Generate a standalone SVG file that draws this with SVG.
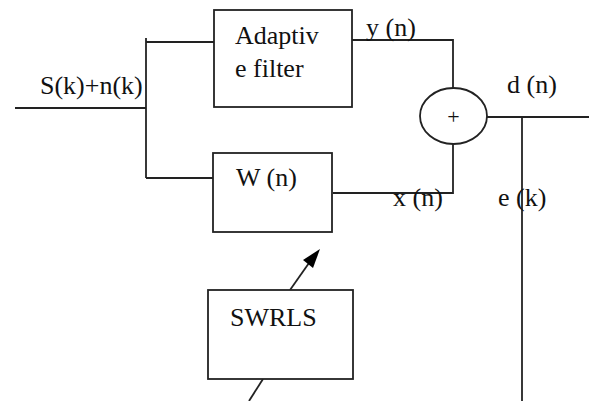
<svg xmlns="http://www.w3.org/2000/svg" width="589" height="401" viewBox="0 0 589 401">
<style>
.box{fill:#fff;stroke:#222;stroke-width:1.8}
.ln{fill:none;stroke:#222;stroke-width:1.8}
text{fill:#111}
</style>
<rect width="589" height="401" fill="#fff"/>
<g id="connectors">
<line class="ln" x1="15" y1="108" x2="146" y2="108"/>
<line class="ln" x1="146" y1="38" x2="146" y2="178"/>
<line class="ln" x1="146" y1="42" x2="214" y2="42"/>
<line class="ln" x1="146" y1="178" x2="214" y2="178"/>
<polyline class="ln" points="352,40 453,40 453,88"/>
<polyline class="ln" points="333,193 453,193 453,144"/>
<line class="ln" x1="487" y1="117" x2="589" y2="117"/>
<line class="ln" x1="522" y1="117" x2="522" y2="401"/>
<line class="ln" x1="290" y1="290" x2="309" y2="263"/>
<path d="M320,249 L303,260 L313,268 z" fill="#000"/>
<line class="ln" x1="263" y1="379" x2="249" y2="401"/>
</g>
<g id="labels" font-family="'Liberation Serif', 'Times New Roman', serif" font-size="26">
<g id="input-label">
<text x="40" y="94">S(k)+n(k)</text>
</g>
<g id="adaptive-filter">
<rect class="box" x="214" y="10" width="138" height="97"/>
<text x="235" y="44">Adaptiv</text>
<text x="235" y="77">e filter</text>
</g>
<g id="w-filter">
<rect class="box" x="213" y="153" width="119" height="79"/>
<text x="236" y="186">W (n)</text>
</g>
<g id="summer">
<ellipse class="box" cx="453.5" cy="116" rx="33.5" ry="28"/>
<text x="453.5" y="124" text-anchor="middle" font-size="22">+</text>
</g>
<g id="swrls">
<rect class="box" x="208" y="290" width="145" height="89"/>
<text x="230" y="326">SWRLS</text>
</g>
<text x="366" y="36">y (n)</text>
<text x="393" y="206">x (n)</text>
<text x="507" y="93">d (n)</text>
<text x="498" y="206">e (k)</text>
</g>
</svg>
